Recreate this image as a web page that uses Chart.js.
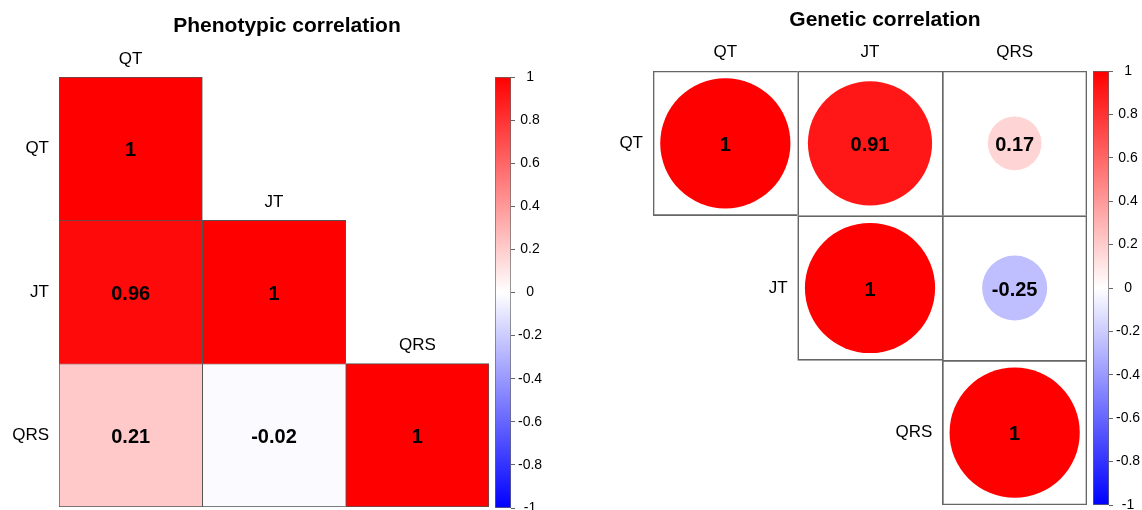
<!DOCTYPE html>
<html>
<head>
<meta charset="utf-8">
<script src="https://cdn.jsdelivr.net/npm/chart.js@4"></script>
<style>
  html, body { margin: 0; padding: 0; background: #fff; overflow: hidden; }
  canvas { position: absolute; top: 0; }
</style>
</head>
<body>
<canvas id="pheno" width="495" height="510" style="left:0px"></canvas>
<canvas id="phenoBar" width="61" height="520" style="left:490px"></canvas>
<canvas id="gene" width="515" height="510" style="left:575px"></canvas>
<canvas id="geneBar" width="61" height="520" style="left:1088px"></canvas>
<script>
const traits = ["QT", "JT", "QRS"];
const phenotypic = [
  [1, 0.96, 0.21],
  [0.96, 1, -0.02],
  [0.21, -0.02, 1],
];
const genetic = [
  [1, 0.91, 0.17],
  [0.91, 1, -0.25],
  [0.17, -0.25, 1],
];
const legendTicks = [-1, -0.8, -0.6, -0.4, -0.2, 0, 0.2, 0.4, 0.6, 0.8, 1];

const FONT = "'Liberation Sans', Arial, sans-serif";
Chart.defaults.font.family = FONT;
Chart.defaults.color = "#000";
Chart.defaults.animation = false;
Chart.defaults.plugins.legend.display = false;
Chart.defaults.plugins.tooltip.enabled = false;

const n = traits.length;

// blue - white - red ramp
function corrColor(v) {
  const t = Math.round(255 * (1 - Math.abs(v)));
  return v >= 0 ? `rgb(255,${t},${t})` : `rgb(${t},${t},255)`;
}

const gridScales = {
  x: { type: "category", labels: traits, offset: true, display: false },
  y: { type: "linear", min: 0, max: n, reverse: true, display: false },
};

// ---- Phenotypic: lower triangle of coloured squares
const phenoSets = traits.map((row, i) => ({
  label: row,
  data: traits.map((col, j) => (j <= i ? [i, i + 1] : null)),
  backgroundColor: traits.map((col, j) => corrColor(phenotypic[i][j])),
  borderColor: "#555",
  borderWidth: (ctx) => ({
    top: 1,
    left: 1,
    right: ctx.dataIndex === i ? 1 : 0,
    bottom: i === n - 1 ? 1 : 0,
  }),
  borderSkipped: false,
  grouped: false,
  barPercentage: 1,
  categoryPercentage: 1,
}));

const phenoText = {
  id: "phenoText",
  afterDatasetsDraw(chart) {
    const { ctx, chartArea, scales: { x, y } } = chart;
    ctx.save();
    ctx.fillStyle = "#000";
    ctx.textBaseline = "middle";
    ctx.textAlign = "center";
    ctx.font = "bold 20px " + FONT;
    chart.data.datasets.forEach((ds, i) => {
      chart.getDatasetMeta(i).data.forEach((bar, j) => {
        if (j > i) return;
        const p = bar.getCenterPoint();
        ctx.fillText(String(phenotypic[i][j]), p.x, p.y + 2);
      });
    });
    ctx.font = "17px " + FONT;
    traits.forEach((t, k) => {
      ctx.textAlign = "center";
      ctx.fillText(t, x.getPixelForValue(k), y.getPixelForValue(k) - 18);
      ctx.textAlign = "right";
      ctx.fillText(t, chartArea.left - 10, y.getPixelForValue(k + 0.5));
    });
    ctx.textAlign = "center";
    ctx.font = "bold 21px " + FONT;
    ctx.fillText("Phenotypic correlation", 287, 26);
    ctx.restore();
  },
};

new Chart(document.getElementById("pheno"), {
  type: "bar",
  data: { labels: traits, datasets: phenoSets },
  options: {
    responsive: false,
    layout: { padding: { left: 59, right: 6, top: 77, bottom: 3 } },
    scales: gridScales,
  },
  plugins: [phenoText],
});

// ---- Genetic: upper triangle of circles
const circlePts = [];
const circleCols = [];
traits.forEach((row, i) => {
  traits.forEach((col, j) => {
    if (j < i) return;
    circlePts.push({ x: col, y: i + 0.5, v: genetic[i][j] });
    circleCols.push(corrColor(genetic[i][j]));
  });
});

const geneSets = [
  {
    type: "scatter",
    data: circlePts,
    pointBackgroundColor: circleCols,
    pointBorderWidth: 0,
    pointRadius: (ctx) => {
      if (!ctx.raw) return 0;
      const xs = ctx.chart.scales.x;
      const cell = Math.abs(xs.getPixelForValue(1) - xs.getPixelForValue(0));
      return 0.45 * cell * Math.sqrt(Math.abs(ctx.raw.v));
    },
  },
].concat(
  traits.map((row, i) => ({
    type: "bar",
    data: traits.map((col, j) => (j >= i ? [i, i + 1] : null)),
    backgroundColor: "rgba(0,0,0,0)",
    borderColor: "#666",
    borderWidth: (ctx) => ({
      top: 1,
      left: 1,
      right: ctx.dataIndex === n - 1 ? 1 : 0,
      bottom: ctx.dataIndex === i ? 1 : 0,
    }),
    borderSkipped: false,
    grouped: false,
    barPercentage: 1,
    categoryPercentage: 1,
  }))
);

const geneText = {
  id: "geneText",
  afterDatasetsDraw(chart) {
    const { ctx, chartArea, scales: { x, y } } = chart;
    const cell = Math.abs(x.getPixelForValue(1) - x.getPixelForValue(0));
    ctx.save();
    ctx.fillStyle = "#000";
    ctx.textBaseline = "middle";
    ctx.textAlign = "center";
    ctx.font = "bold 20px " + FONT;
    chart.getDatasetMeta(0).data.forEach((pt, k) => {
      ctx.fillText(String(circlePts[k].v), pt.x, pt.y + 2);
    });
    ctx.font = "17px " + FONT;
    traits.forEach((t, k) => {
      ctx.textAlign = "center";
      ctx.fillText(t, x.getPixelForValue(k), chartArea.top - 19);
      ctx.textAlign = "right";
      ctx.fillText(t, x.getPixelForValue(k) - cell / 2 - 10, y.getPixelForValue(k + 0.5));
    });
    ctx.textAlign = "center";
    ctx.font = "bold 21px " + FONT;
    ctx.fillText("Genetic correlation", 310, 20);
    ctx.restore();
  },
};

new Chart(document.getElementById("gene"), {
  type: "bar",
  data: { labels: traits, datasets: geneSets },
  options: {
    responsive: false,
    layout: { padding: { left: 78, right: 3, top: 71, bottom: 5 } },
    scales: gridScales,
  },
  plugins: [geneText],
});

// ---- colour legends
function colorbar(id, padTop, padBottom) {
  new Chart(document.getElementById(id), {
    type: "bar",
    data: {
      labels: [""],
      datasets: [
        {
          data: [[-1, 1]],
          backgroundColor: (ctx) => {
            const a = ctx.chart.chartArea;
            if (!a) return "#fff";
            const g = ctx.chart.ctx.createLinearGradient(0, a.bottom, 0, a.top);
            g.addColorStop(0, "#0000ff");
            g.addColorStop(0.5, "#ffffff");
            g.addColorStop(1, "#ff0000");
            return g;
          },
          borderColor: "#666",
          borderWidth: 1,
          borderSkipped: false,
          barPercentage: 1,
          categoryPercentage: 1,
        },
      ],
    },
    options: {
      responsive: false,
      layout: { padding: { left: 5, right: 0, top: padTop, bottom: padBottom } },
      scales: {
        x: { type: "category", offset: true, display: false },
        y: {
          position: "right",
          min: -1,
          max: 1,
          afterBuildTicks: (ax) => {
            ax.ticks = legendTicks.map((v) => ({ value: v }));
          },
          afterFit: (ax) => {
            ax.width = 40;
          },
          grid: { drawOnChartArea: false, tickLength: 4, color: "#666" },
          border: { display: false },
          ticks: {
            padding: 3,
            crossAlign: "center",
            color: "#000",
            font: { size: 14 },
            callback: (v) => String(v),
          },
        },
      },
    },
  });
}

colorbar("phenoBar", 77, 12);
colorbar("geneBar", 71, 15);
</script>
</body>
</html>
